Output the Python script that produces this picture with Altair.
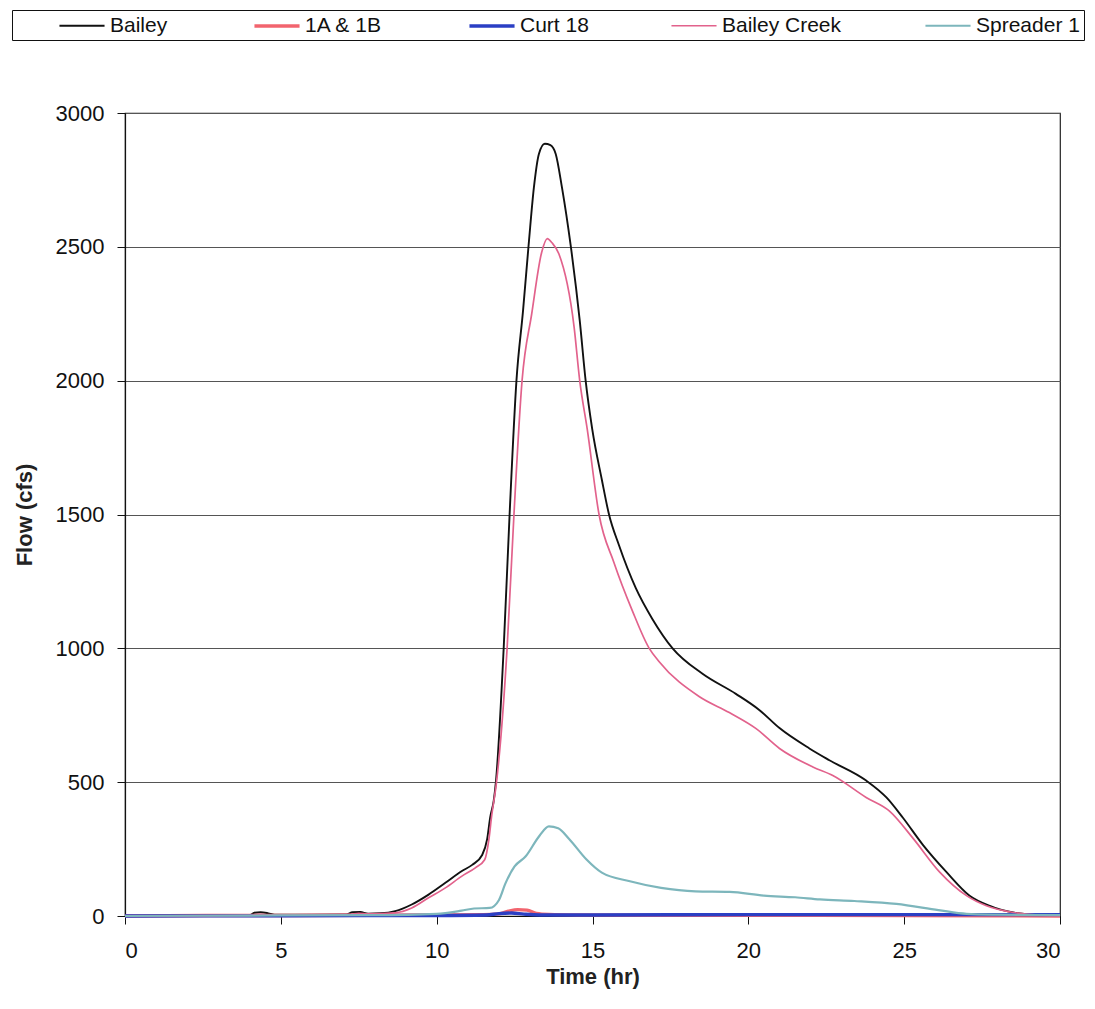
import altair as alt
import pandas as pd

# Hydrograph samples: time in hours, flow in cfs
bailey_time = [0, 4.0, 4.15, 4.35, 4.6, 4.8, 6.0, 7.1, 7.3, 7.55,
               7.8, 8.2, 8.67, 9.2, 9.74, 10.28, 10.81, 11.14, 11.46, 11.62,
               11.72, 11.83, 11.9, 12.15, 12.34, 12.56, 12.77, 12.96, 13.12, 13.28,
               13.47, 13.65, 13.82, 14.02, 14.3, 14.59, 14.78, 14.99, 15.30, 15.53,
               15.85, 16.39, 16.92, 17.57, 18.53, 19.6, 20.35, 21.0, 21.96, 22.6,
               23.78, 24.43, 24.96, 25.6, 26.36, 27.1, 27.75, 28.5, 29.36, 30]
bailey_flow = [0, 3, 12, 14, 10, 5, 5, 6, 14, 15,
               9, 10, 18, 43, 80, 124, 168, 191, 228, 287,
               370, 430, 500, 1000, 1500, 2000, 2260, 2520, 2722, 2847,
               2885, 2880, 2847, 2722, 2505, 2225, 2000, 1820, 1630, 1500,
               1385, 1225, 1110, 1000, 905, 830, 770, 702, 626, 582,
               506, 443, 367, 266, 164, 76, 38, 13, 3, 0]

ab_time = [0, 4.3, 5, 8, 10, 11.5, 12.0, 12.3, 12.6, 12.9, 13.2, 13.6, 14.5, 17, 20, 25, 30]
ab_flow = [0, 2, 2, 3, 4, 5, 8, 18, 24, 22, 10, 6, 4, 3, 3, 2, 0]

curt_time = [0, 5, 10, 11.6, 12.0, 12.4, 12.8, 13.3, 15, 20, 25, 30]
curt_flow = [0, 1, 2, 4, 9, 11, 7, 4, 4, 5, 5, 5]

creek_time = [0, 4.0, 4.3, 4.6, 6.0, 7.2, 7.5, 7.8, 8.67, 9.2,
              9.74, 10.28, 10.81, 11.24, 11.54, 11.68, 11.76, 11.92, 12.26, 12.48,
              12.74, 13.05, 13.37, 13.55, 13.7, 13.92, 14.41, 14.59, 14.83, 15.21,
              15.69, 16.28, 16.82, 17.14, 18.42, 19.39, 20.25, 21.0, 22.07, 22.71,
              23.78, 24.53, 25.28, 26.14, 27.0, 27.64, 28.5, 29.36, 30]
creek_flow = [0, 2, 6, 4, 5, 6, 10, 8, 12, 30,
              68, 105, 149, 180, 210, 290, 370, 500, 1000, 1500,
              2000, 2250, 2480, 2531, 2515, 2474, 2200, 2000, 1820, 1500,
              1320, 1140, 1000, 950, 820, 760, 700, 626, 557, 525,
              443, 392, 291, 164, 76, 38, 13, 3, 0]

spreader_time = [0, 5, 8, 10, 10.8, 11.2, 11.7, 12.0, 12.2, 12.5,
                 12.85, 13.3, 13.6, 13.9, 14.25, 14.8, 15.3, 16.2, 17.2, 18.3,
                 19.4, 20.5, 21.5, 22.3, 23.4, 24.75, 26.1, 27.0, 28.0, 30]
spreader_flow = [0, 2, 3, 8, 20, 28, 30, 60, 120, 185,
                 222, 300, 335, 328, 288, 212, 162, 130, 105, 92,
                 90, 76, 70, 62, 56, 45, 22, 8, 5, 3]

series_names = ["Bailey", "1A & 1B", "Curt 18", "Bailey Creek", "Spreader 1"]
series_colors = ["#111111", "#F2646E", "#2B3FC4", "#E2628C", "#7DB6BC"]
series_widths = [1.9, 3.4, 3.4, 1.7, 2.2]

x_ticks = [0, 5, 10, 15, 20, 25, 30]
y_ticks = [0, 500, 1000, 1500, 2000, 2500, 3000]

samples = [
    (series_names[0], bailey_time, bailey_flow),
    (series_names[1], ab_time, ab_flow),
    (series_names[2], curt_time, curt_flow),
    (series_names[3], creek_time, creek_flow),
    (series_names[4], spreader_time, spreader_flow),
]
df = pd.concat(
    [pd.DataFrame({"series": n, "time": t, "flow": q}) for n, t, q in samples],
    ignore_index=True,
)

FONT = "Liberation Sans"

# a long flat stroke whose layout box stays only one line tall
legend_stroke = "M-2.2,0H2.2"

legend = alt.Legend(
    title="\u00a0",
    titleOrient="left",
    titlePadding=54,
    orient="none",
    legendX=-113,
    legendY=-103,
    direction="horizontal",
    columns=5,
    columnPadding=79,
    strokeColor="#111111",
    fillColor="white",
    padding=4,
    labelFont=FONT,
    labelFontSize=21,
    labelColor="#111111",
    labelOffset=16,
    symbolType=legend_stroke,
    symbolSize=420,
)

base = alt.Chart(df).encode(
    x=alt.X(
        "time:Q",
        scale=alt.Scale(domain=[0, 30], nice=False, zero=False),
        axis=alt.Axis(
            values=x_ticks, title="Time (hr)", grid=False, tickSize=8,
            labelPadding=16, titleY=50,
        ),
    ),
    y=alt.Y(
        "flow:Q",
        scale=alt.Scale(domain=[0, 3000], nice=False),
        axis=alt.Axis(
            values=y_ticks, format="d", title="Flow (cfs)", grid=True, tickSize=8,
            labelPadding=13, titleX=-89,
        ),
    ),
    color=alt.Color(
        "series:N",
        scale=alt.Scale(domain=series_names, range=series_colors),
        legend=legend,
    ),
    strokeWidth=alt.StrokeWidth(
        "series:N",
        scale=alt.Scale(type="ordinal", domain=series_names, range=series_widths),
        legend=legend,
    ),
)

layers = [
    base.transform_filter(alt.datum.series == name).mark_line(interpolate="monotone")
    for name in series_names
]

chart = (
    alt.layer(*layers)
    .properties(
        width=935,
        height=803,
        padding={"left": 125, "top": 113, "right": 35, "bottom": 93},
        autosize=alt.AutoSizeParams(type="none"),
        background="white",
    )
    .configure_view(stroke="#222222", strokeWidth=1.2)
    .configure_axis(
        labelFont=FONT,
        labelFontSize=22,
        labelColor="#111111",
        titleFont=FONT,
        titleFontSize=22,
        titleFontWeight="bold",
        titleColor="#222222",
        domainColor="#111111",
        domainWidth=1.2,
        tickColor="#111111",
        gridColor="#555555",
        gridWidth=1.2,
    )
)

chart.save("out.html", embed_options={"renderer": "svg", "actions": False})
